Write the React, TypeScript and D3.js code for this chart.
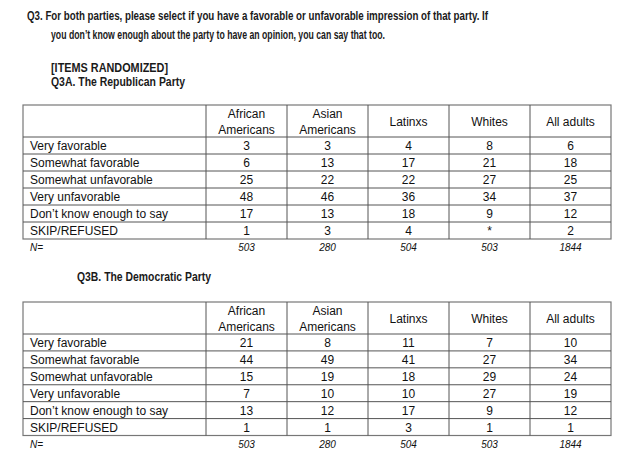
import React, { useEffect } from 'react';
import * as d3 from 'd3';

const groups = ['African Americans', 'Asian Americans', 'Latinxs', 'Whites', 'All adults'];
const headerLines = [['African', 'Americans'], ['Asian', 'Americans'], ['Latinxs'], ['Whites'], ['All adults']];
const responses = [
  'Very favorable',
  'Somewhat favorable',
  'Somewhat unfavorable',
  'Very unfavorable',
  'Don\u2019t know enough to say',
  'SKIP/REFUSED',
];
const republican = [
  ['3', '3', '4', '8', '6'],
  ['6', '13', '17', '21', '18'],
  ['25', '22', '22', '27', '25'],
  ['48', '46', '36', '34', '37'],
  ['17', '13', '18', '9', '12'],
  ['1', '3', '4', '*', '2'],
];
const democratic = [
  ['21', '8', '11', '7', '10'],
  ['44', '49', '41', '27', '34'],
  ['15', '19', '18', '29', '24'],
  ['7', '10', '10', '27', '19'],
  ['13', '12', '17', '9', '12'],
  ['1', '1', '3', '1', '1'],
];
const sampleSizes = ['503', '280', '504', '503', '1844'];

const W = 633;
const H = 459;
const FONT = "'Liberation Sans', Arial, sans-serif";
const LINE = '#555';

const left = 23;
const xScale = d3.scaleBand<string>().domain(groups).range([206, 611]);

type TableProps = { top: number; headerBottom: number; bottom: number; values: string[][] };

function Table({ top, headerBottom, bottom, values }: TableProps) {
  const yScale = d3.scaleBand<string>().domain(responses).range([headerBottom, bottom]);
  const right = xScale.range()[1];
  const bw = xScale.bandwidth();
  const bh = yScale.bandwidth();
  return (
    <g>
      {/* outer box */}
      <rect x={left} y={top} width={right - left} height={bottom - top} fill="none" stroke="#777" strokeWidth={1.2} />
      {/* column lines */}
      {groups.map(g => (
        <line key={g} x1={xScale(g)!} x2={xScale(g)!} y1={top} y2={bottom} stroke={LINE} strokeWidth={1} />
      ))}
      {/* row lines */}
      {responses.map(r => (
        <line key={r} x1={left} x2={right} y1={yScale(r)!} y2={yScale(r)!} stroke={LINE} strokeWidth={1} />
      ))}
      {/* header */}
      {groups.map((g, j) => {
        const lines = headerLines[j];
        const cx = xScale(g)! + bw / 2;
        const mid = (top + headerBottom) / 2;
        return lines.length > 1 ? (
          <text key={g} x={cx} textAnchor="middle" fontSize={12} fontFamily={FONT} fill="#111">
            <tspan x={cx} y={mid - 3}>{lines[0]}</tspan>
            <tspan x={cx} y={mid + 13}>{lines[1]}</tspan>
          </text>
        ) : (
          <text key={g} x={cx} y={mid + 4.5} textAnchor="middle" fontSize={12} fontFamily={FONT} fill="#111">
            {lines[0]}
          </text>
        );
      })}
      {/* row labels */}
      {responses.map(r => (
        <text key={r} x={30} y={yScale(r)! + bh / 2 + 4.5} fontSize={12} fontFamily={FONT} fill="#111">
          {r}
        </text>
      ))}
      {/* cells */}
      {responses.map((r, i) =>
        groups.map((g, j) => (
          <text
            key={r + g}
            x={xScale(g)! + bw / 2}
            y={yScale(r)! + bh / 2 + 4.5}
            textAnchor="middle"
            fontSize={12}
            fontFamily={FONT}
            fill="#111"
          >
            {values[i][j]}
          </text>
        ))
      )}
      {/* N row */}
      <text x={30} y={bottom + 12} fontSize={10} fontStyle="italic" fontFamily={FONT} fill="#111">
        N=
      </text>
      {groups.map((g, j) => (
        <text
          key={g}
          x={xScale(g)! + bw / 2}
          y={bottom + 12}
          textAnchor="middle"
          fontSize={10}
          fontStyle="italic"
          fontFamily={FONT}
          fill="#111"
        >
          {sampleSizes[j]}
        </text>
      ))}
    </g>
  );
}

export default function App() {
  useEffect(() => {
    document.body.style.margin = '0';
  }, []);
  const bold = { fontFamily: FONT, fontWeight: 700, fontSize: 12.5, fill: '#1a1a1a' } as const;
  return (
    <svg width={W} height={H} style={{ display: 'block', background: '#fff' }}>
      <text x={27} y={20} {...bold} textLength={461} lengthAdjust="spacingAndGlyphs">
        Q3. For both parties, please select if you have a favorable or unfavorable impression of that party.  If
      </text>
      <text x={51} y={39} {...bold} textLength={334} lengthAdjust="spacingAndGlyphs">
        you don’t know enough about the party to have an opinion, you can say that too.
      </text>
      <text x={51} y={72} {...bold} textLength={117} lengthAdjust="spacingAndGlyphs">[ITEMS RANDOMIZED]</text>
      <text x={51} y={86} {...bold} textLength={134} lengthAdjust="spacingAndGlyphs">Q3A. The Republican Party</text>
      <Table top={105} headerBottom={137} bottom={239} values={republican} />
      <text x={77} y={281} {...bold} textLength={134} lengthAdjust="spacingAndGlyphs">Q3B. The Democratic Party</text>
      <Table top={302} headerBottom={334} bottom={435.5} values={democratic} />
    </svg>
  );
}
